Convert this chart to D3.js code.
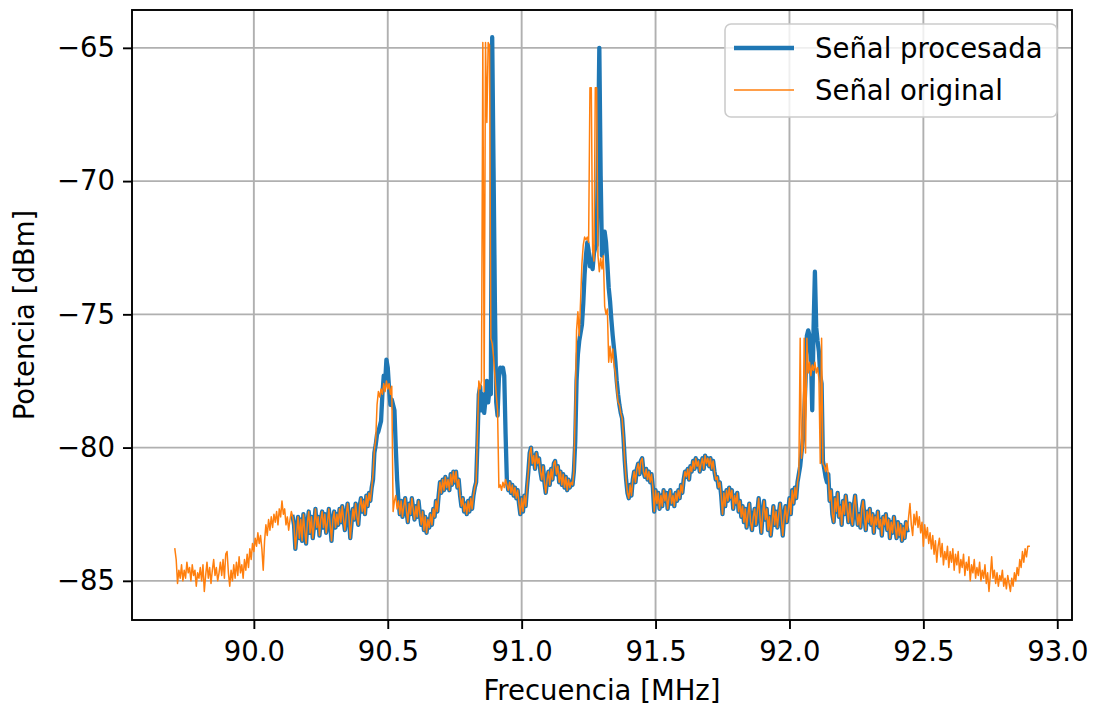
<!DOCTYPE html>
<html>
<head>
<meta charset="utf-8">
<script src="https://cdn.jsdelivr.net/npm/d3@7"></script>
<style>
  html, body { margin: 0; padding: 0; background: #ffffff; }
  svg { display: block; font-family: "DejaVu Sans", sans-serif; }
</style>
</head>
<body>
<svg id="chart" width="1093" height="707"></svg>
<script>
// ---------------- DATA ----------------
const freqStep = 0.005;            // MHz between bins
const origFreqStart = 89.705;      // first bin of "Señal original"
const procFreqStart = 90.145;      // first bin of "Señal procesada"

const xTicks = [90.0, 90.5, 91.0, 91.5, 92.0, 92.5, 93.0];
const yTicks = [-85, -80, -75, -70, -65];
const seriesNames = ["Señal procesada", "Señal original"];

// Señal original (dBm), one value per bin from 89.705 MHz
const originalValues = [
  -83.8,-84.2,-85.1,-84.6,-84.9,-84.4,-85.0,-84.6,-84.9,-84.3,
  -84.7,-84.5,-85.0,-84.4,-84.8,-84.6,-85.2,-84.7,-84.9,-84.5,
  -85.0,-84.4,-85.4,-84.8,-84.3,-84.9,-84.5,-85.1,-84.6,-84.2,
  -84.8,-84.5,-85.0,-84.7,-84.3,-84.8,-84.2,-84.9,-84.0,-83.9,
  -84.7,-85.2,-84.6,-85.0,-84.4,-84.9,-84.3,-84.8,-84.1,-84.7,
  -84.4,-84.9,-84.2,-84.6,-84.0,-84.5,-83.8,-84.2,-83.6,-83.9,
  -83.4,-83.7,-83.2,-83.6,-83.3,-83.8,-84.6,-83.5,-82.9,-83.3,
  -82.7,-83.1,-82.6,-83.0,-82.5,-82.8,-82.4,-82.9,-82.3,-82.6,
  -82.0,-82.5,-82.3,-82.9,-82.6,-83.1,-82.7,-82.4,-82.6,-82.9,
  -83.8,-83.2,-82.6,-83.4,-82.7,-83.5,-82.5,-83.1,-83.6,-82.8,
  -82.4,-83.2,-82.6,-83.4,-82.9,-82.3,-83.0,-82.6,-83.3,-82.7,
  -82.4,-83.0,-82.5,-83.2,-82.8,-82.3,-82.9,-83.5,-82.7,-82.4,
  -83.0,-82.5,-82.9,-82.3,-82.8,-82.2,-82.7,-83.1,-82.5,-82.1,
  -82.6,-83.4,-82.8,-82.3,-82.7,-82.1,-82.6,-82.9,-82.2,-81.9,
  -82.4,-82.0,-82.5,-81.8,-82.2,-81.7,-82.0,-81.5,-81.0,-80.1,
  -79.7,-78.4,-77.9,-78.1,-77.8,-78.0,-77.6,-77.9,-77.5,-77.8,
  -77.6,-78.0,-77.7,-82.4,-82.0,-81.8,-82.3,-82.0,-82.5,-82.0,
  -82.6,-82.2,-81.9,-82.4,-82.8,-82.1,-82.5,-81.9,-82.3,-82.7,
  -82.2,-82.6,-82.0,-82.5,-82.9,-82.4,-83.1,-82.6,-83.2,-82.7,
  -83.0,-82.5,-82.9,-82.3,-82.6,-82.0,-82.4,-81.8,-81.3,-81.7,
  -81.2,-81.6,-81.1,-81.5,-81.2,-81.6,-81.0,-81.4,-80.9,-81.3,
  -80.9,-81.5,-81.2,-81.8,-82.2,-81.9,-82.4,-82.1,-82.5,-82.0,
  -82.4,-81.9,-82.3,-81.8,-81.5,-81.3,-79.5,-77.5,-77.8,-77.5,
  -64.8,-77.9,-64.8,-67.8,-64.8,-64.9,-75.9,-76.1,-76.6,-77.3,
  -78.0,-78.6,-81.5,-81.4,-81.6,-81.3,-81.5,-81.2,-81.4,-81.6,
  -81.3,-81.7,-81.4,-81.8,-81.5,-81.9,-81.6,-82.1,-82.5,-81.9,
  -82.4,-81.8,-82.2,-81.5,-80.9,-80.2,-80.0,-80.6,-80.3,-80.8,
  -80.2,-80.6,-80.4,-80.9,-81.2,-80.7,-81.3,-81.7,-81.2,-80.9,
  -81.4,-80.8,-81.2,-80.6,-80.5,-81.0,-80.7,-81.3,-80.9,-81.4,
  -81.0,-81.5,-81.1,-81.6,-81.2,-81.5,-81.3,-81.4,-80.9,-78.5,
  -75.6,-74.9,-75.8,-74.5,-73.1,-72.4,-72.1,-72.2,-72.1,-72.3,
  -66.5,-66.5,-72.6,-73.0,-66.5,-66.5,-72.8,-73.4,-72.9,-73.3,
  -72.8,-74.7,-75.0,-74.8,-76.8,-76.2,-76.8,-76.3,-76.9,-77.2,
  -77.8,-78.3,-78.4,-78.7,-78.9,-79.6,-80.5,-81.2,-81.7,-81.9,
  -81.4,-81.8,-81.2,-80.9,-81.3,-80.8,-80.6,-81.0,-80.5,-80.4,
  -80.9,-81.1,-80.8,-81.2,-80.9,-81.3,-81.0,-81.5,-82.4,-81.6,
  -82.1,-81.7,-82.3,-81.8,-82.2,-81.6,-82.0,-81.7,-82.3,-81.9,
  -81.6,-82.1,-81.8,-82.2,-81.7,-82.0,-81.6,-81.9,-81.4,-81.7,
  -81.2,-80.9,-81.1,-80.8,-81.2,-80.7,-80.9,-80.5,-80.8,-80.4,
  -80.7,-80.5,-80.9,-80.6,-80.4,-80.8,-80.3,-80.6,-80.4,-80.7,
  -80.4,-80.8,-80.5,-80.9,-81.2,-81.1,-81.5,-81.3,-81.8,-82.5,
  -81.7,-82.2,-81.6,-82.0,-81.5,-81.9,-81.6,-82.3,-81.8,-82.1,
  -81.7,-82.4,-82.0,-82.6,-82.2,-82.8,-82.3,-83.0,-82.5,-82.1,
  -82.8,-83.1,-82.6,-82.3,-82.9,-82.4,-81.9,-82.6,-83.2,-82.5,
  -82.0,-82.7,-82.3,-83.1,-82.6,-83.3,-82.8,-82.2,-82.9,-82.4,
  -83.0,-82.5,-82.1,-82.7,-83.3,-82.6,-82.2,-82.8,-82.4,-81.9,
  -82.5,-81.6,-82.1,-81.5,-81.9,-81.3,-81.0,-75.9,-80.4,-79.9,
  -75.9,-80.2,-75.9,-77.2,-76.8,-77.3,-76.9,-77.1,-76.8,-77.2,
  -77.0,-77.4,-80.6,-75.9,-80.6,-80.7,-80.9,-80.6,-81.0,-82.0,
  -81.6,-82.5,-82.8,-81.9,-82.4,-81.7,-82.6,-82.2,-82.9,-82.0,
  -82.5,-81.8,-82.3,-82.8,-82.1,-82.6,-82.9,-82.2,-81.8,-82.4,
  -82.9,-82.5,-83.0,-82.3,-82.0,-82.6,-83.1,-82.4,-82.8,-82.3,
  -82.9,-82.5,-83.2,-82.6,-82.9,-82.4,-83.0,-82.7,-83.3,-82.6,
  -82.9,-82.5,-83.1,-82.7,-83.4,-82.8,-83.2,-82.6,-83.0,-83.4,
  -82.8,-83.3,-82.9,-83.5,-83.0,-83.4,-82.8,-83.1,-82.6,-82.1,
  -82.9,-83.3,-82.5,-82.9,-82.4,-83.0,-82.6,-83.2,-82.8,-83.7,
  -82.9,-83.4,-83.0,-83.6,-83.2,-83.8,-83.3,-84.0,-83.5,-84.3,
  -83.7,-83.4,-84.1,-83.6,-84.4,-83.9,-84.2,-83.7,-84.5,-83.9,
  -84.3,-83.8,-84.6,-84.0,-84.4,-83.9,-84.7,-84.2,-84.5,-84.0,
  -84.8,-84.3,-84.6,-84.1,-85.0,-84.4,-84.7,-84.2,-84.9,-84.5,
  -84.8,-84.3,-85.0,-84.6,-84.9,-84.4,-85.1,-84.7,-85.4,-84.8,
  -84.1,-84.9,-84.6,-85.1,-84.7,-85.2,-84.8,-85.0,-84.6,-85.2,
  -84.9,-85.3,-84.8,-85.1,-85.4,-84.9,-85.2,-84.7,-85.0,-84.5,
  -84.8,-84.2,-84.5,-83.9,-84.3,-83.8,-84.1,-83.7,-83.7
];

// Señal procesada (dBm), one value per bin from 90.145 MHz
const processedValues = [
  -82.6,-82.9,
  -83.8,-83.2,-82.6,-83.4,-82.7,-83.5,-82.5,-83.1,-83.6,-82.8,
  -82.4,-83.2,-82.6,-83.4,-82.9,-82.3,-83.0,-82.6,-83.3,-82.7,
  -82.4,-83.0,-82.5,-83.2,-82.8,-82.3,-82.9,-83.5,-82.7,-82.4,
  -83.0,-82.5,-82.9,-82.3,-82.8,-82.2,-82.7,-83.1,-82.5,-82.1,
  -82.6,-83.4,-82.8,-82.3,-82.7,-82.1,-82.6,-82.9,-82.2,-81.9,
  -82.4,-82.0,-82.5,-81.8,-82.2,-81.7,-82.0,-81.5,-81.2,-80.2,
  -79.9,-79.5,-79.4,-79.2,-79.0,-78.0,-77.3,-77.6,-76.7,-77.0,
  -77.8,-78.4,-78.2,-78.4,-78.6,-80.0,-81.2,-82.0,-82.5,-82.0,
  -82.6,-82.2,-81.9,-82.4,-82.8,-82.1,-82.5,-81.9,-82.3,-82.7,
  -82.2,-82.6,-82.0,-82.5,-82.9,-82.4,-83.1,-82.6,-83.2,-82.7,
  -83.0,-82.5,-82.9,-82.3,-82.6,-82.0,-82.4,-81.8,-81.3,-81.7,
  -81.2,-81.6,-81.1,-81.5,-81.2,-81.6,-81.0,-81.4,-80.9,-81.3,
  -80.9,-81.5,-81.2,-81.8,-82.2,-81.9,-82.4,-82.1,-82.5,-82.0,
  -82.4,-81.9,-82.3,-81.8,-81.5,-81.3,-79.8,-78.0,-77.7,-78.6,
  -78.0,-78.7,-78.2,-77.5,-78.3,-77.8,-78.0,-64.6,-69.5,-74.5,
  -78.3,-78.8,-77.4,-77.0,-77.1,-77.0,-77.3,-79.5,-81.3,-81.6,
  -81.3,-81.7,-81.4,-81.8,-81.5,-81.9,-81.6,-82.1,-82.5,-81.9,
  -82.4,-81.8,-82.2,-81.5,-80.9,-80.2,-80.0,-80.6,-80.3,-80.8,
  -80.2,-80.6,-80.4,-80.9,-81.2,-80.7,-81.3,-81.7,-81.2,-80.9,
  -81.4,-80.8,-81.2,-80.6,-80.5,-81.0,-80.7,-81.3,-80.9,-81.4,
  -81.0,-81.5,-81.1,-81.6,-81.2,-81.5,-81.3,-81.4,-80.9,-79.8,
  -77.5,-76.5,-76.0,-75.7,-75.4,-74.6,-73.5,-72.8,-72.3,-72.6,
  -73.2,-73.0,-73.3,-72.7,-72.5,-72.4,-69.0,-65.0,-69.8,-72.8,
  -72.3,-71.9,-72.3,-73.1,-74.0,-74.5,-75.2,-75.8,-76.3,-76.8,
  -77.5,-78.0,-78.4,-78.7,-78.9,-79.6,-80.5,-81.2,-81.7,-81.9,
  -81.4,-81.8,-81.2,-80.9,-81.3,-80.8,-80.6,-81.0,-80.5,-80.4,
  -80.9,-81.1,-80.8,-81.2,-80.9,-81.3,-81.0,-81.5,-82.4,-81.6,
  -82.1,-81.7,-82.3,-81.8,-82.2,-81.6,-82.0,-81.7,-82.3,-81.9,
  -81.6,-82.1,-81.8,-82.2,-81.7,-82.0,-81.6,-81.9,-81.4,-81.7,
  -81.2,-80.9,-81.1,-80.8,-81.2,-80.7,-80.9,-80.5,-80.8,-80.4,
  -80.7,-80.5,-80.9,-80.6,-80.4,-80.8,-80.3,-80.6,-80.4,-80.7,
  -80.4,-80.8,-80.5,-80.9,-81.2,-81.1,-81.5,-81.3,-81.8,-82.5,
  -81.7,-82.2,-81.6,-82.0,-81.5,-81.9,-81.6,-82.3,-81.8,-82.1,
  -81.7,-82.4,-82.0,-82.6,-82.2,-82.8,-82.3,-83.0,-82.5,-82.1,
  -82.8,-83.1,-82.6,-82.3,-82.9,-82.4,-81.9,-82.6,-83.2,-82.5,
  -82.0,-82.7,-82.3,-83.1,-82.6,-83.3,-82.8,-82.2,-82.9,-82.4,
  -83.0,-82.5,-82.1,-82.7,-83.3,-82.6,-82.2,-82.8,-82.4,-81.9,
  -82.5,-81.6,-82.1,-81.5,-81.9,-81.3,-81.0,-80.7,-80.2,-79.7,
  -78.8,-77.5,-75.8,-75.6,-75.8,-76.5,-78.6,-75.5,-73.4,-75.5,
  -76.0,-76.4,-77.3,-77.6,-80.5,-80.8,-81.1,-81.3,-81.0,-82.0,
  -81.6,-82.5,-82.8,-81.9,-82.4,-81.7,-82.6,-82.2,-82.9,-82.0,
  -82.5,-81.8,-82.3,-82.8,-82.1,-82.6,-82.9,-82.2,-81.8,-82.4,
  -82.9,-82.5,-83.0,-82.3,-82.0,-82.6,-83.1,-82.4,-82.8,-82.3,
  -82.9,-82.5,-83.2,-82.6,-82.9,-82.4,-83.0,-82.7,-83.3,-82.6,
  -82.9,-82.5,-83.1,-82.7,-83.4,-82.8,-83.2,-82.6,-83.0,-83.4,
  -82.8,-83.3,-82.9,-83.5,-83.0,-83.4,-82.8,-83.1
];

// ---------------- CHART ----------------
const W = 1093, H = 707;
const margin = { left: 132, top: 10, right: 1093 - 1072, bottom: 707 - 620 };
const pw = W - margin.left - margin.right;
const ph = H - margin.top - margin.bottom;
const FONT = "27.5px";

const svg = d3.select("#chart");
const g = svg.append("g").attr("transform", `translate(${margin.left},${margin.top})`);

const x = d3.scaleLinear().domain([89.545, 93.055]).range([0, pw]);
const y = d3.scaleLinear().domain([-86.47, -63.58]).range([ph, 0]);

// grid
g.append("g").selectAll("line").data(xTicks).join("line")
  .attr("x1", d => x(d)).attr("x2", d => x(d))
  .attr("y1", 0).attr("y2", ph)
  .attr("stroke", "#b0b0b0").attr("stroke-width", 1.9);
g.append("g").selectAll("line").data(yTicks).join("line")
  .attr("x1", 0).attr("x2", pw)
  .attr("y1", d => y(d)).attr("y2", d => y(d))
  .attr("stroke", "#b0b0b0").attr("stroke-width", 1.9);

// clip
svg.append("defs").append("clipPath").attr("id", "clip")
  .append("rect").attr("x", 0).attr("y", 0).attr("width", pw).attr("height", ph);

const plot = g.append("g").attr("clip-path", "url(#clip)");

const lineProc = d3.line()
  .x((d, i) => x(procFreqStart + i * freqStep))
  .y(d => y(d));
const lineOrig = d3.line()
  .x((d, i) => x(origFreqStart + i * freqStep))
  .y(d => y(d));

plot.append("path").datum(processedValues)
  .attr("d", lineProc).attr("fill", "none")
  .attr("stroke", "#1f77b4").attr("stroke-width", 4.3)
  .attr("stroke-linejoin", "round").attr("stroke-linecap", "square");
plot.append("path").datum(originalValues)
  .attr("d", lineOrig).attr("fill", "none")
  .attr("stroke", "#ff7f0e").attr("stroke-width", 1.5)
  .attr("stroke-linejoin", "round").attr("stroke-linecap", "square");

// axes
const fmtX = d3.format(".1f");
const fmtY = d => (d < 0 ? "\u2212" + Math.abs(d) : String(d));

const xAxis = g.append("g").attr("transform", `translate(0,${ph})`)
  .call(d3.axisBottom(x).tickValues(xTicks).tickFormat(fmtX).tickSize(9).tickPadding(12));
const yAxis = g.append("g")
  .call(d3.axisLeft(y).tickValues(yTicks).tickFormat(fmtY).tickSize(9).tickPadding(8));

[xAxis, yAxis].forEach(a => {
  a.select(".domain").remove();
  a.selectAll(".tick line").attr("stroke", "#000").attr("stroke-width", 1.9);
  a.selectAll(".tick text").attr("fill", "#000")
    .style("font-family", "'DejaVu Sans', sans-serif").style("font-size", FONT);
});

// frame
g.append("rect").attr("x", 0).attr("y", 0).attr("width", pw).attr("height", ph)
  .attr("fill", "none").attr("stroke", "#000").attr("stroke-width", 1.9);

// axis labels
svg.append("text")
  .attr("x", margin.left + pw / 2).attr("y", 700)
  .attr("text-anchor", "middle").attr("font-size", FONT).attr("fill", "#000")
  .text("Frecuencia [MHz]");
svg.append("text")
  .attr("transform", `translate(34,${margin.top + ph / 2}) rotate(-90)`)
  .attr("text-anchor", "middle").attr("font-size", FONT).attr("fill", "#000")
  .text("Potencia [dBm]");

// legend
const leg = svg.append("g");
leg.append("rect").attr("x", 725).attr("y", 24).attr("width", 332).attr("height", 93)
  .attr("rx", 6).attr("ry", 6)
  .attr("fill", "rgba(255,255,255,0.8)").attr("stroke", "#cccccc").attr("stroke-width", 1.6);
const legendItems = [
  { name: seriesNames[0], color: "#1f77b4", w: 4.3, yy: 48 },
  { name: seriesNames[1], color: "#ff7f0e", w: 1.5, yy: 90 }
];
legendItems.forEach(it => {
  leg.append("line").attr("x1", 734).attr("x2", 794).attr("y1", it.yy).attr("y2", it.yy)
    .attr("stroke", it.color).attr("stroke-width", it.w);
  leg.append("text").attr("x", 815).attr("y", it.yy + 10)
    .attr("font-size", FONT).attr("fill", "#000").text(it.name);
});
</script>
</body>
</html>
